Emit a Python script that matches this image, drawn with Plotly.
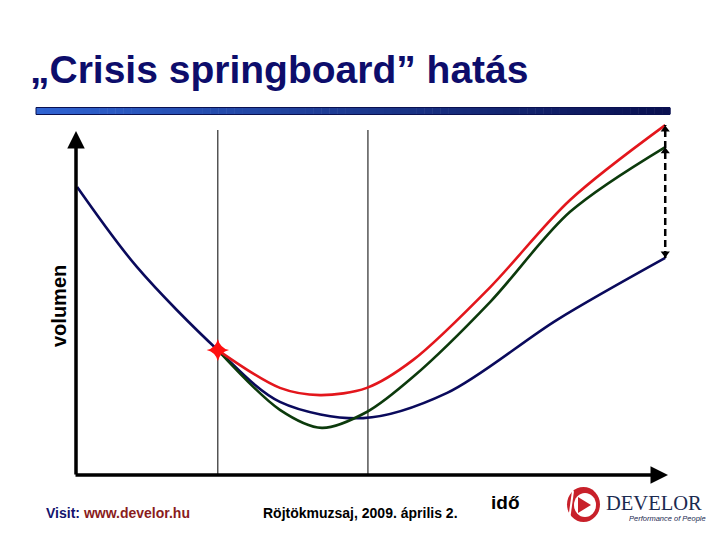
import plotly.graph_objects as go

# ---- data (time in arbitrary units 0-10, volume in arbitrary units 0-10) ----
blue_t = [0.02, 1.03, 2.40, 3.45, 4.86, 6.28, 8.14, 9.97]
blue_v = [8.00, 5.78, 3.47, 2.03, 1.58, 2.28, 4.31, 6.03]

red_t = [2.40, 3.45, 4.13, 4.92, 5.70, 7.01, 8.36, 9.97]
red_v = [3.47, 2.42, 2.22, 2.42, 3.19, 5.22, 7.64, 9.72]

green_t = [2.40, 3.45, 4.16, 4.92, 5.70, 7.01, 8.36, 9.97]
green_v = [3.47, 1.81, 1.31, 1.75, 2.72, 4.81, 7.31, 9.11]

phase_t = [2.40, 4.94]          # vertical phase lines
crisis_point = (2.40, 3.47)     # star marker

W, H = 720, 540
def X(px): return px / W
def Y(py): return 1 - py / H

NAVY = "#0d0d6b"
BLUE_LINE = "#0a0a5c"
RED_LINE = "#e3161c"
GREEN_LINE = "#0c3a0c"

fig = go.Figure()

for t, v, c in [(blue_t, blue_v, BLUE_LINE), (green_t, green_v, GREEN_LINE), (red_t, red_v, RED_LINE)]:
    fig.add_trace(go.Scatter(x=t, y=v, mode="lines",
                             line=dict(color=c, width=2.6, shape="spline", smoothing=0.9),
                             hoverinfo="skip"))

# dashed difference arrow at the end
end_t = blue_t[-1]
fig.add_trace(go.Scatter(x=[end_t, end_t], y=[blue_v[-1], red_v[-1]], mode="lines",
                         line=dict(color="black", width=2.5, dash="7px,4px"), hoverinfo="skip"))
fig.add_trace(go.Scatter(x=[end_t, end_t], y=[red_v[-1] - 0.12, green_v[-1] - 0.12], mode="markers",
                         marker=dict(symbol="triangle-up", size=8, color="black"),
                         cliponaxis=False, hoverinfo="skip"))
fig.add_trace(go.Scatter(x=[end_t], y=[blue_v[-1] + 0.12], mode="markers",
                         marker=dict(symbol="triangle-down", size=8, color="black"),
                         cliponaxis=False, hoverinfo="skip"))

# crisis star
fig.add_trace(go.Scatter(x=[crisis_point[0]], y=[crisis_point[1]], mode="markers",
                         marker=dict(symbol="star-diamond", size=16, color="#ff1010"),
                         cliponaxis=False, hoverinfo="skip"))

shapes = []
for t in phase_t:
    shapes.append(dict(type="line", xref="x", yref="paper", x0=t, x1=t,
                       y0=Y(475), y1=Y(130), line=dict(color="black", width=1), layer="below"))

# gradient bar under the title
n = 80
x_start, x_end = 36, 670
c0 = (48, 100, 210)
c1 = (10, 16, 80)
for i in range(n):
    f = i / (n - 1)
    c = tuple(int(c0[k] + (c1[k] - c0[k]) * f) for k in range(3))
    xa = x_start + (x_end - x_start) * i / n
    xb = x_start + (x_end - x_start) * (i + 1) / n + 0.5
    shapes.append(dict(type="rect", xref="paper", yref="paper",
                       x0=X(xa), x1=X(xb), y0=Y(114), y1=Y(108),
                       fillcolor="rgb(%d,%d,%d)" % c, line=dict(width=0)))
shapes.append(dict(type="rect", xref="paper", yref="paper",
                   x0=X(x_start), x1=X(x_end), y0=Y(114.5), y1=Y(107.5),
                   fillcolor="rgba(0,0,0,0)", line=dict(color="#0a1050", width=1)))

# logo mark
shapes.append(dict(type="circle", xref="paper", yref="paper",
                   x0=X(567), x1=X(600), y0=Y(522), y1=Y(487),
                   fillcolor="#c8202a", line=dict(width=0)))
shapes.append(dict(type="circle", xref="paper", yref="paper",
                   x0=X(574), x1=X(596), y0=Y(517), y1=Y(493),
                   fillcolor="white", line=dict(width=0)))
shapes.append(dict(type="path", xref="paper", yref="paper",
                   path="M %f %f L %f %f L %f %f Z" % (X(578), Y(497), X(578), Y(513), X(591), Y(505)),
                   fillcolor="#c8202a", line=dict(width=0)))
shapes.append(dict(type="line", xref="paper", yref="paper",
                   x0=X(573), x1=X(569), y0=Y(491), y1=Y(520),
                   line=dict(color="white", width=2)))

FONT = "Liberation Sans, Arial"
annotations = [
    # axes with arrowheads
    dict(xref="paper", yref="paper", x=X(76), y=Y(131), ax=0, ay=345, axref="pixel", ayref="pixel",
         showarrow=True, arrowhead=2, arrowsize=1, arrowwidth=3.5, arrowcolor="black", text=""),
    dict(xref="paper", yref="paper", x=X(668), y=Y(475), ax=-594, ay=0, axref="pixel", ayref="pixel",
         showarrow=True, arrowhead=2, arrowsize=1, arrowwidth=3.5, arrowcolor="black", text=""),
    # title
    dict(xref="paper", yref="paper", x=X(28), y=Y(69), xanchor="left", yanchor="middle",
         text="<b>„Crisis springboard” hatás</b>", showarrow=False,
         font=dict(family=FONT, size=39, color=NAVY)),
    # axis labels
    dict(xref="paper", yref="paper", x=X(59), y=Y(306), xanchor="center", yanchor="middle",
         text="<b>volumen</b>", textangle=-90, showarrow=False,
         font=dict(family=FONT, size=20, color="black")),
    dict(xref="paper", yref="paper", x=X(489), y=Y(502), xanchor="left", yanchor="middle",
         text="<b>idő</b>", showarrow=False,
         font=dict(family=FONT, size=19, color="black")),
    # footer
    dict(xref="paper", yref="paper", x=X(44), y=Y(513), xanchor="left", yanchor="middle",
         text="<b><span style='color:#14146e'>Visit:</span> <span style='color:#8a1c1c'>www.develor.hu</span></b>",
         showarrow=False, font=dict(family=FONT, size=14)),
    dict(xref="paper", yref="paper", x=X(261), y=Y(513), xanchor="left", yanchor="middle",
         text="<b>Röjtökmuzsaj, 2009. április 2.</b>", showarrow=False,
         font=dict(family=FONT, size=14, color="black")),
    dict(xref="paper", yref="paper", x=X(604), y=Y(503), xanchor="left", yanchor="middle",
         text="DEVELOR", showarrow=False,
         font=dict(family="Liberation Serif, Times New Roman", size=20.5, color="#1b2a50")),
    dict(xref="paper", yref="paper", x=X(708), y=Y(518), xanchor="right", yanchor="middle",
         text="<i>Performance of People</i>", showarrow=False,
         font=dict(family=FONT, size=7.5, color="#1b2a50")),
]

fig.update_layout(
    width=W, height=H,
    margin=dict(l=0, r=0, t=0, b=0),
    paper_bgcolor="white", plot_bgcolor="white",
    showlegend=False,
    xaxis=dict(domain=[X(76), X(667)], range=[0, 10], visible=False, fixedrange=True),
    yaxis=dict(domain=[Y(475), Y(115)], range=[0, 10], visible=False, fixedrange=True),
    shapes=shapes,
    annotations=annotations,
)

fig.write_html("out.html", config={"displayModeBar": False},
               post_script="document.body.style.margin='0px';")
